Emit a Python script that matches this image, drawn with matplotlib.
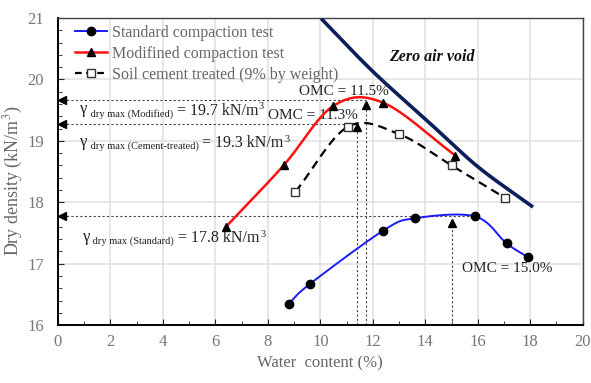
import matplotlib
matplotlib.use("Agg")
import matplotlib.pyplot as plt
import numpy as np

plt.rcParams['font.family'] = ['Liberation Serif', 'DejaVu Serif']
plt.rcParams['mathtext.fontset'] = 'stix'

# data
std_w = [8.8, 9.6, 12.4, 13.6, 15.9, 17.1, 17.9]
std_d = [16.35, 16.67, 17.54, 17.74, 17.77, 17.33, 17.11]

mod_w = [6.4, 8.6, 10.5, 12.4, 15.15]
mod_d = [17.6, 18.6, 19.57, 19.62, 18.76]

cem_w = [9.05, 11.05, 13.0, 15.0, 17.05]
cem_d = [18.17, 19.23, 19.11, 18.6, 18.07]

zav_w = [10.08, 12.0, 14.04, 16.0, 18.05]
zav_d = [20.97, 20.13, 19.34, 18.58, 17.94]

# (omc, max density, arrow tip, end of horizontal guide)
guides = {
    'Modified': (11.75, 19.7, 19.62, 11.75),
    'Cement-treated': (11.4, 19.3, 19.26, 11.4),
    'Standard': (15.0, 17.8, 17.7, 15.9),
}


def smooth(xs, ys, n=40):
    # catmull-rom curve through the points, only for drawing the line
    p = np.column_stack([xs, ys]).astype(float)
    m = np.zeros_like(p)
    m[1:-1] = (p[2:] - p[:-2]) / 2
    m[0] = p[1] - p[0]
    m[-1] = p[-1] - p[-2]
    out = []
    t = np.linspace(0, 1, n)[:, None]
    h00 = 2 * t**3 - 3 * t**2 + 1
    h10 = t**3 - 2 * t**2 + t
    h01 = -2 * t**3 + 3 * t**2
    h11 = t**3 - t**2
    for i in range(len(p) - 1):
        out.append(h00 * p[i] + h10 * m[i] + h01 * p[i + 1] + h11 * m[i + 1])
    out = np.vstack(out)
    return out[:, 0], out[:, 1]


def gamma_label(ax, x, y, name, value):
    # gamma with a small subscript, then the value
    t = ax.text(x, y, '\u03b3', fontsize=12, color='#222222', va='baseline')
    t = ax.annotate(' dry max (' + name + ')', xy=(1, 0), xycoords=t, xytext=(0, -1),
                    textcoords='offset points', fontsize=7.5, color='#222222', va='bottom')
    t = ax.annotate(' = ' + value + ' kN/m', xy=(1, 0), xycoords=t, xytext=(0, 0),
                    textcoords='offset points', fontsize=11.5, color='#222222', va='bottom')
    ax.annotate('3', xy=(1, 1), xycoords=t, xytext=(0.5, -6),
                textcoords='offset points', fontsize=7.5, color='#222222', va='bottom')


fig = plt.figure(figsize=(5.91, 3.83), dpi=100)
ax = fig.add_axes([0.098, 0.151, 0.888, 0.802])

ax.set_xlim(0, 20)
ax.set_ylim(16, 21)
ax.set_xticks(np.arange(0, 21, 2))
ax.set_xticks(np.arange(0, 21, 1), minor=True)
ax.set_yticks(np.arange(16, 22, 1))
ax.set_yticks(np.arange(16, 21.01, 0.2), minor=True)
ax.grid(True, which='major', color='#e2e2e2', lw=1.2)
ax.set_axisbelow(True)
ax.tick_params(which='both', direction='in', colors='#222222', labelcolor='#777777',
               labelsize=12)
ax.tick_params(axis='x', pad=6)
ax.tick_params(axis='y', pad=10)
ax.tick_params(which='major', length=4)
ax.tick_params(which='minor', length=3)
for s in ['left', 'bottom']:
    ax.spines[s].set_linewidth(1.4)
for s in ['top', 'right']:
    ax.spines[s].set_linewidth(1.0)
    ax.spines[s].set_color('#444444')

# zero air void
zx, zy = smooth(zav_w, zav_d)
ax.plot(zx, zy, color='#0b1f5c', lw=2.6, zorder=3)

# curves
sx, sy = smooth(std_w, std_d)
ax.plot(sx, sy, color='#1a1aff', lw=1.4, zorder=4)
ax.plot(std_w, std_d, 'o', color='black', ms=6, zorder=5)
mx, my = smooth(mod_w, mod_d)
ax.plot(mx, my, color='#ff1111', lw=1.8, zorder=4)
ax.plot(mod_w, mod_d, '^', color='black', ms=6, zorder=5)
cx, cy = smooth(cem_w, cem_d)
ax.plot(cx, cy, color='black', lw=1.6, ls=(0, (4, 2.5)), zorder=4)
ax.plot(cem_w, cem_d, 's', mfc='white', mec='#333333', ms=6, mew=1.0, zorder=5)

# legend handles
ax.plot([], [], color='#1a1aff', lw=1.4, marker='o', mfc='black', mec='black', ms=6,
        label='Standard compaction test')
ax.plot([], [], color='#ff1111', lw=1.8, marker='^', mfc='black', mec='black', ms=6,
        label='Modifined compaction test')
ax.plot([], [], color='black', lw=1.6, ls=(0, (3, 2)), marker='s', mfc='white',
        mec='#333333', ms=6, label='Soil cement treated (9% by weight)')
leg = ax.legend(loc='upper left', bbox_to_anchor=(0.005, 1.025), frameon=False,
                fontsize=11.5, handlelength=2.0, labelspacing=0.32, handletextpad=0.3)
for t in leg.get_texts():
    t.set_color('#666666')

# optimum guide lines
for key, (w, d, tip, reach) in guides.items():
    ax.plot([0.15, reach], [d - 0.03, d - 0.03], color='#444444', lw=0.8,
            ls=(0, (2, 2)), zorder=2)
    ax.plot([0.15], [d - 0.03], '<', color='black', ms=6, clip_on=False, zorder=6)
    ax.plot([w, w], [16, tip - 0.08], color='#444444', lw=0.8, ls=(0, (2, 2)), zorder=2)
    ax.plot([w], [tip - 0.03], '^', color='black', ms=6, zorder=6)

ax.text(9.2, 19.8, 'OMC = 11.5%', fontsize=11, va='center', color='#222222')
ax.text(8.0, 19.42, 'OMC = 11.3%', fontsize=11, va='center', color='#222222')
ax.text(15.4, 16.93, 'OMC = 15.0%', fontsize=11, va='center', color='#222222')

gamma_label(ax, 0.85, 19.45, 'Modified', '19.7')
gamma_label(ax, 0.85, 18.92, 'Cement-treated', '19.3')
gamma_label(ax, 0.95, 17.37, 'Standard', '17.8')

ax.text(12.6, 20.37, 'Zero air void', fontsize=11.5, fontweight='bold', fontstyle='italic',
        va='center', color='#111111')

ax.set_xlabel('Water  content (%)', fontsize=12, color='#666666', labelpad=4)
ax.set_ylabel('Dry density (kN/m$^3$)', fontsize=13, color='#666666')
ax.yaxis.set_label_coords(-0.062, 0.47)

fig.savefig('out.png', dpi=100)
